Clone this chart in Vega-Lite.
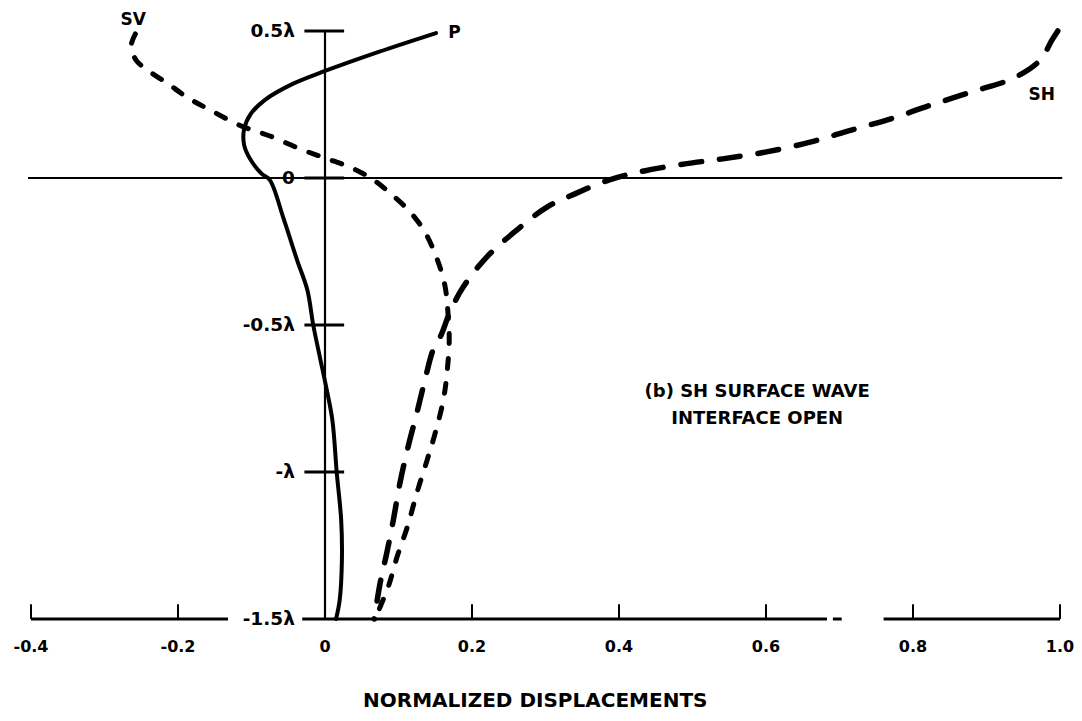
{
  "$schema": "https://vega.github.io/schema/vega-lite/v6.json",
  "width": 1029,
  "height": 588,
  "autosize": {"type": "none"},
  "padding": {"left": 31, "top": 31, "right": 22, "bottom": 102},
  "background": "white",
  "config": {"view": {"stroke": null}, "font": "DejaVu Sans", "text": {"fontWeight": "bold", "color": "black"}},
  "datasets": {
    "curves": [
      {"series": "P", "i": 1, "x": 0.151, "d": 0.493},
      {"series": "P", "i": 2, "x": 0.073, "d": 0.429},
      {"series": "P", "i": 3, "x": 0.0, "d": 0.364},
      {"series": "P", "i": 4, "x": -0.044, "d": 0.32},
      {"series": "P", "i": 5, "x": -0.082, "d": 0.265},
      {"series": "P", "i": 6, "x": -0.101, "d": 0.218},
      {"series": "P", "i": 7, "x": -0.11, "d": 0.167},
      {"series": "P", "i": 8, "x": -0.11, "d": 0.112},
      {"series": "P", "i": 9, "x": -0.101, "d": 0.061},
      {"series": "P", "i": 10, "x": -0.086, "d": 0.014},
      {"series": "P", "i": 11, "x": -0.075, "d": -0.007},
      {"series": "P", "i": 12, "x": -0.057, "d": -0.133},
      {"series": "P", "i": 13, "x": -0.038, "d": -0.279},
      {"series": "P", "i": 14, "x": -0.024, "d": -0.381},
      {"series": "P", "i": 15, "x": -0.016, "d": -0.5},
      {"series": "P", "i": 16, "x": -0.007, "d": -0.609},
      {"series": "P", "i": 17, "x": 0.001, "d": -0.704},
      {"series": "P", "i": 18, "x": 0.01, "d": -0.823},
      {"series": "P", "i": 19, "x": 0.016, "d": -1.003},
      {"series": "P", "i": 20, "x": 0.022, "d": -1.163},
      {"series": "P", "i": 21, "x": 0.023, "d": -1.299},
      {"series": "P", "i": 22, "x": 0.02, "d": -1.435},
      {"series": "P", "i": 23, "x": 0.015, "d": -1.5},

      {"series": "SV", "i": 1, "x": -0.258, "d": 0.49},
      {"series": "SV", "i": 2, "x": -0.264, "d": 0.446},
      {"series": "SV", "i": 3, "x": -0.257, "d": 0.401},
      {"series": "SV", "i": 4, "x": -0.244, "d": 0.371},
      {"series": "SV", "i": 5, "x": -0.215, "d": 0.323},
      {"series": "SV", "i": 6, "x": -0.186, "d": 0.272},
      {"series": "SV", "i": 7, "x": -0.156, "d": 0.231},
      {"series": "SV", "i": 8, "x": -0.114, "d": 0.177},
      {"series": "SV", "i": 9, "x": -0.075, "d": 0.143},
      {"series": "SV", "i": 10, "x": -0.034, "d": 0.099},
      {"series": "SV", "i": 11, "x": 0.0, "d": 0.068},
      {"series": "SV", "i": 12, "x": 0.034, "d": 0.037},
      {"series": "SV", "i": 13, "x": 0.064, "d": -0.003},
      {"series": "SV", "i": 14, "x": 0.093, "d": -0.061},
      {"series": "SV", "i": 15, "x": 0.116, "d": -0.116},
      {"series": "SV", "i": 16, "x": 0.136, "d": -0.184},
      {"series": "SV", "i": 17, "x": 0.152, "d": -0.272},
      {"series": "SV", "i": 18, "x": 0.163, "d": -0.364},
      {"series": "SV", "i": 19, "x": 0.167, "d": -0.449},
      {"series": "SV", "i": 20, "x": 0.169, "d": -0.551},
      {"series": "SV", "i": 21, "x": 0.166, "d": -0.663},
      {"series": "SV", "i": 22, "x": 0.161, "d": -0.755},
      {"series": "SV", "i": 23, "x": 0.15, "d": -0.867},
      {"series": "SV", "i": 24, "x": 0.139, "d": -0.959},
      {"series": "SV", "i": 25, "x": 0.125, "d": -1.071},
      {"series": "SV", "i": 26, "x": 0.112, "d": -1.187},
      {"series": "SV", "i": 27, "x": 0.098, "d": -1.289},
      {"series": "SV", "i": 28, "x": 0.086, "d": -1.391},
      {"series": "SV", "i": 29, "x": 0.072, "d": -1.48},
      {"series": "SV", "i": 30, "x": 0.071, "d": -1.5},

      {"series": "SH", "i": 1, "x": 0.997, "d": 0.5},
      {"series": "SH", "i": 2, "x": 0.989, "d": 0.469},
      {"series": "SH", "i": 3, "x": 0.973, "d": 0.401},
      {"series": "SH", "i": 4, "x": 0.937, "d": 0.34},
      {"series": "SH", "i": 5, "x": 0.88, "d": 0.293},
      {"series": "SH", "i": 6, "x": 0.824, "d": 0.248},
      {"series": "SH", "i": 7, "x": 0.773, "d": 0.204},
      {"series": "SH", "i": 8, "x": 0.716, "d": 0.163},
      {"series": "SH", "i": 9, "x": 0.66, "d": 0.122},
      {"series": "SH", "i": 10, "x": 0.599, "d": 0.088},
      {"series": "SH", "i": 11, "x": 0.541, "d": 0.065},
      {"series": "SH", "i": 12, "x": 0.49, "d": 0.048},
      {"series": "SH", "i": 13, "x": 0.434, "d": 0.024},
      {"series": "SH", "i": 14, "x": 0.386, "d": -0.007},
      {"series": "SH", "i": 15, "x": 0.34, "d": -0.054},
      {"series": "SH", "i": 16, "x": 0.302, "d": -0.099},
      {"series": "SH", "i": 17, "x": 0.261, "d": -0.177},
      {"series": "SH", "i": 18, "x": 0.22, "d": -0.269},
      {"series": "SH", "i": 19, "x": 0.188, "d": -0.371},
      {"series": "SH", "i": 20, "x": 0.17, "d": -0.456},
      {"series": "SH", "i": 21, "x": 0.158, "d": -0.534},
      {"series": "SH", "i": 22, "x": 0.147, "d": -0.585},
      {"series": "SH", "i": 23, "x": 0.136, "d": -0.687},
      {"series": "SH", "i": 24, "x": 0.125, "d": -0.799},
      {"series": "SH", "i": 25, "x": 0.113, "d": -0.915},
      {"series": "SH", "i": 26, "x": 0.102, "d": -1.037},
      {"series": "SH", "i": 27, "x": 0.093, "d": -1.163},
      {"series": "SH", "i": 28, "x": 0.084, "d": -1.276},
      {"series": "SH", "i": 29, "x": 0.075, "d": -1.378},
      {"series": "SH", "i": 30, "x": 0.067, "d": -1.5}
    ],
    "depthTicks": [
      {"d": 0.5, "label": "0.5λ"},
      {"d": 0, "label": "0"},
      {"d": -0.5, "label": "-0.5λ"},
      {"d": -1, "label": "-λ"},
      {"d": -1.5, "label": "-1.5λ"}
    ],
    "dispTicks": [
      {"x": -0.4, "label": "-0.4"},
      {"x": -0.2, "label": "-0.2"},
      {"x": 0, "label": "0"},
      {"x": 0.2, "label": "0.2"},
      {"x": 0.4, "label": "0.4"},
      {"x": 0.6, "label": "0.6"},
      {"x": 0.8, "label": "0.8"},
      {"x": 1.0, "label": "1.0"}
    ],
    "baseline": [
      {"x": -0.4, "x2": -0.132},
      {"x": -0.031, "x2": 0.683},
      {"x": 0.691, "x2": 0.703},
      {"x": 0.76, "x2": 1.0}
    ],
    "curveNames": [
      {"x": -0.261, "d": 0.537, "label": "SV"},
      {"x": 0.176, "d": 0.493, "label": "P"},
      {"x": 0.975, "d": 0.282, "label": "SH"}
    ],
    "note": [
      {"x": 0.588, "d": -0.728, "label": "(b) SH SURFACE WAVE"},
      {"x": 0.588, "d": -0.82, "label": "INTERFACE OPEN"}
    ]
  },
  "layer": [
    {
      "description": "surface line at depth 0",
      "data": {"values": [{}]},
      "mark": {"type": "rule", "stroke": "black", "strokeWidth": 2},
      "encoding": {
        "x": {"datum": -0.404, "type": "quantitative", "axis": null, "scale": {"domain": [-0.4, 1.0], "nice": false, "zero": false}},
        "x2": {"datum": 1.003},
        "y": {"datum": 0, "type": "quantitative", "axis": null, "scale": {"domain": [-1.5, 0.5], "nice": false, "zero": false}}
      }
    },
    {
      "description": "depth axis",
      "data": {"values": [{}]},
      "mark": {"type": "rule", "stroke": "black", "strokeWidth": 2.2},
      "encoding": {
        "x": {"datum": 0, "type": "quantitative", "axis": null, "scale": {"domain": [-0.4, 1.0], "nice": false, "zero": false}},
        "y": {"datum": 0.5, "type": "quantitative", "axis": null, "scale": {"domain": [-1.5, 0.5], "nice": false, "zero": false}},
        "y2": {"datum": -1.5}
      }
    },
    {
      "description": "depth ticks crossing the axis",
      "data": {"name": "depthTicks"},
      "transform": [{"filter": "datum.d > -1.5"}],
      "mark": {"type": "rule", "stroke": "black", "strokeWidth": 3},
      "encoding": {
        "x": {"datum": -0.028, "type": "quantitative", "axis": null, "scale": {"domain": [-0.4, 1.0], "nice": false, "zero": false}},
        "x2": {"datum": 0.026},
        "y": {"field": "d", "type": "quantitative", "axis": null, "scale": {"domain": [-1.5, 0.5], "nice": false, "zero": false}}
      }
    },
    {
      "description": "displacement baseline at depth -1.5",
      "data": {"name": "baseline"},
      "mark": {"type": "rule", "stroke": "black", "strokeWidth": 3},
      "encoding": {
        "x": {"field": "x", "type": "quantitative", "axis": null, "scale": {"domain": [-0.4, 1.0], "nice": false, "zero": false}},
        "x2": {"field": "x2"},
        "y": {"datum": -1.5, "type": "quantitative", "axis": null, "scale": {"domain": [-1.5, 0.5], "nice": false, "zero": false}}
      }
    },
    {
      "description": "displacement ticks pointing up",
      "data": {"name": "dispTicks"},
      "transform": [{"filter": "datum.x != 0"}],
      "mark": {"type": "rule", "stroke": "black", "strokeWidth": 2},
      "encoding": {
        "x": {"field": "x", "type": "quantitative", "axis": null, "scale": {"domain": [-0.4, 1.0], "nice": false, "zero": false}},
        "y": {"datum": -1.5, "type": "quantitative", "axis": null, "scale": {"domain": [-1.5, 0.5], "nice": false, "zero": false}},
        "y2": {"datum": -1.45}
      }
    },
    {
      "data": {"name": "curves"},
      "transform": [{"filter": "datum.series == 'P'"}],
      "mark": {"type": "line", "stroke": "black", "strokeWidth": 4, "interpolate": "catmull-rom", "strokeCap": "round", "strokeJoin": "round"},
      "encoding": {
        "x": {"field": "x", "type": "quantitative", "axis": null, "scale": {"domain": [-0.4, 1.0], "nice": false, "zero": false}},
        "y": {"field": "d", "type": "quantitative", "axis": null, "scale": {"domain": [-1.5, 0.5], "nice": false, "zero": false}},
        "order": {"field": "i", "type": "quantitative"}
      }
    },
    {
      "data": {"name": "curves"},
      "transform": [{"filter": "datum.series == 'SV'"}],
      "mark": {"type": "line", "stroke": "black", "strokeWidth": 5, "interpolate": "catmull-rom", "strokeCap": "round", "strokeDash": [10, 15]},
      "encoding": {
        "x": {"field": "x", "type": "quantitative", "axis": null, "scale": {"domain": [-0.4, 1.0], "nice": false, "zero": false}},
        "y": {"field": "d", "type": "quantitative", "axis": null, "scale": {"domain": [-1.5, 0.5], "nice": false, "zero": false}},
        "order": {"field": "i", "type": "quantitative"}
      }
    },
    {
      "data": {"name": "curves"},
      "transform": [{"filter": "datum.series == 'SH'"}],
      "mark": {"type": "line", "stroke": "black", "strokeWidth": 5.5, "interpolate": "catmull-rom", "strokeCap": "round", "strokeDash": [21, 18]},
      "encoding": {
        "x": {"field": "x", "type": "quantitative", "axis": null, "scale": {"domain": [-0.4, 1.0], "nice": false, "zero": false}},
        "y": {"field": "d", "type": "quantitative", "axis": null, "scale": {"domain": [-1.5, 0.5], "nice": false, "zero": false}},
        "order": {"field": "i", "type": "quantitative"}
      }
    },
    {
      "description": "depth labels",
      "data": {"name": "depthTicks"},
      "mark": {"type": "text", "align": "right", "baseline": "middle", "fontSize": 18.5},
      "encoding": {
        "x": {"datum": -0.041, "type": "quantitative", "axis": null, "scale": {"domain": [-0.4, 1.0], "nice": false, "zero": false}},
        "y": {"field": "d", "type": "quantitative", "axis": null, "scale": {"domain": [-1.5, 0.5], "nice": false, "zero": false}},
        "text": {"field": "label"}
      }
    },
    {
      "description": "displacement labels",
      "data": {"name": "dispTicks"},
      "mark": {"type": "text", "align": "center", "baseline": "middle", "fontSize": 16},
      "encoding": {
        "x": {"field": "x", "type": "quantitative", "axis": null, "scale": {"domain": [-0.4, 1.0], "nice": false, "zero": false}},
        "y": {"datum": -1.595, "type": "quantitative", "axis": null, "scale": {"domain": [-1.5, 0.5], "nice": false, "zero": false}},
        "text": {"field": "label"}
      }
    },
    {
      "data": {"name": "curveNames"},
      "mark": {"type": "text", "align": "center", "baseline": "middle", "fontSize": 17},
      "encoding": {
        "x": {"field": "x", "type": "quantitative", "axis": null, "scale": {"domain": [-0.4, 1.0], "nice": false, "zero": false}},
        "y": {"field": "d", "type": "quantitative", "axis": null, "scale": {"domain": [-1.5, 0.5], "nice": false, "zero": false}},
        "text": {"field": "label"}
      }
    },
    {
      "data": {"name": "note"},
      "mark": {"type": "text", "align": "center", "baseline": "middle", "fontSize": 18},
      "encoding": {
        "x": {"field": "x", "type": "quantitative", "axis": null, "scale": {"domain": [-0.4, 1.0], "nice": false, "zero": false}},
        "y": {"field": "d", "type": "quantitative", "axis": null, "scale": {"domain": [-1.5, 0.5], "nice": false, "zero": false}},
        "text": {"field": "label"}
      }
    },
    {
      "description": "axis title",
      "data": {"values": [{"label": "NORMALIZED DISPLACEMENTS"}]},
      "mark": {"type": "text", "align": "center", "baseline": "middle", "fontSize": 20},
      "encoding": {
        "x": {"datum": 0.286, "type": "quantitative", "axis": null, "scale": {"domain": [-0.4, 1.0], "nice": false, "zero": false}},
        "y": {"datum": -1.779, "type": "quantitative", "axis": null, "scale": {"domain": [-1.5, 0.5], "nice": false, "zero": false}},
        "text": {"field": "label"}
      }
    }
  ]
}
